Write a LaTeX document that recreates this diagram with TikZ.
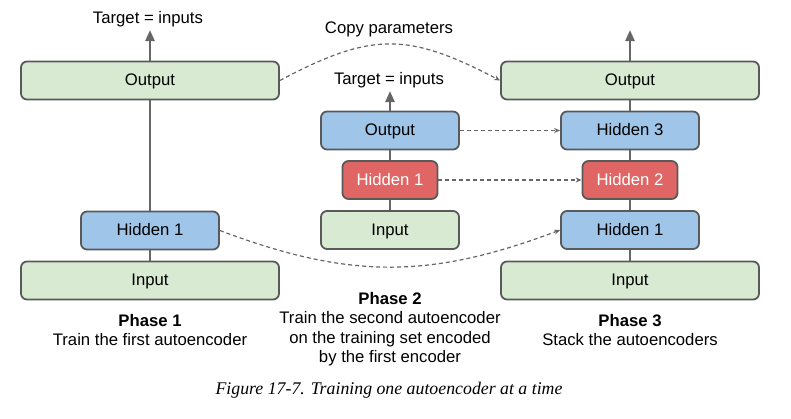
\documentclass[tikz,border=0pt]{standalone}
\usepackage{fontspec}
\setmainfont{Liberation Sans}
\newfontfamily\capfont{Liberation Serif}
\usetikzlibrary{arrows.meta}
\definecolor{gfill}{HTML}{D9EAD3}
\definecolor{bfill}{HTML}{9FC5E8}
\definecolor{rfill}{HTML}{E06666}
\definecolor{bord}{HTML}{595959}
\definecolor{lcol}{HTML}{666666}
\tikzset{
  layer/.style={draw=bord, line width=1.8pt, rounded corners=6pt, minimum height=38pt,
    inner sep=0pt, text height=12pt, text depth=2pt, font=\fontsize{16.7}{19.5}\selectfont},
  gbox/.style={layer, fill=gfill},
  bbox/.style={layer, fill=bfill},
  rbox/.style={layer, fill=rfill, text=white},
  wide/.style={minimum width=258pt},
  mid/.style={minimum width=138pt},
  narrow/.style={minimum width=95pt},
  vline/.style={draw=lcol, line width=2.4pt},
  varrow/.style={vline, -{Triangle[length=11pt,width=9pt]}},
  dline/.style={draw=lcol, line width=1.2pt, dash pattern=on 4pt off 3pt, -{Stealth[length=6pt,width=5pt]}},
  lbl/.style={font=\fontsize{16.7}{19.5}\selectfont, inner sep=0pt, align=center},
}
\begin{document}
\begin{tikzpicture}[x=1pt,y=-1pt]
\useasboundingbox (0,0) rectangle (791,418);
% Phase 1
\node[gbox,wide] (p1out) at (150,80.5) {Output};
\node[bbox,mid] (p1hid) at (150,230.5) {Hidden 1};
\node[gbox,wide] (p1in) at (150,280.5) {Input};
\coordinate (t1) at (150,30);
\node[lbl] (t1l) at (148,19) {Target = inputs};
% Phase 2
\node[bbox,mid] (p2out) at (390,130.5) {Output};
\node[rbox,narrow] (p2hid) at (390,180) {Hidden 1};
\node[gbox,mid] (p2in) at (390,230) {Input};
\coordinate (t2) at (390,91);
\node[lbl] (t2l) at (389,80) {Target = inputs};
% Phase 3
\node[gbox,wide] (p3out) at (630,80.5) {Output};
\node[bbox,mid] (p3h3) at (630,130.5) {Hidden 3};
\node[rbox,narrow] (p3h2) at (630,180) {Hidden 2};
\node[bbox,mid] (p3h1) at (630,230) {Hidden 1};
\node[gbox,wide] (p3in) at (630,280.5) {Input};
\coordinate (t3) at (630,30);
% vertical links
\draw[vline] (p1in) -- (p1hid);
\draw[vline] (p1hid) -- (p1out);
\draw[varrow] (p1out.north) -- (t1);
\draw[vline] (p2in) -- (p2hid);
\draw[vline] (p2hid) -- (p2out);
\draw[varrow] (p2out.north) -- (t2);
\draw[vline] (p3in) -- (p3h1);
\draw[vline] (p3h1) -- (p3h2);
\draw[vline] (p3h2) -- (p3h3);
\draw[vline] (p3h3) -- (p3out);
\draw[varrow] (p3out.north) -- (t3);
% dashed connectors
\draw[dline] (p1out.east) .. controls +(92,-49) and +(-92,-48) .. (p3out.west);
\node[lbl] (cp) at (389,29) {Copy parameters};
\draw[dline] (p2out.east) -- (p3h3.west);
\draw[dline] (p2hid.east) -- (p3h2.west);
\draw[dline] (p1hid.east) .. controls +(130,49) and +(-130,49) .. (p3h1.west);
% labels
\node[lbl] (ph1) at (150,330) {\textbf{Phase 1}\\Train the first autoencoder};
\node[lbl] (ph2) at (390,329) {\textbf{Phase 2}\\Train the second autoencoder\\on the training set encoded\\by the first encoder};
\node[lbl] (ph3) at (630,330) {\textbf{Phase 3}\\Stack the autoencoders};
\node[inner sep=0pt, font=\capfont\itshape\fontsize{17.8}{20}\selectfont] (cap) at (389,390) {Figure 17-7. Training one autoencoder at a time};
\end{tikzpicture}
\end{document}
